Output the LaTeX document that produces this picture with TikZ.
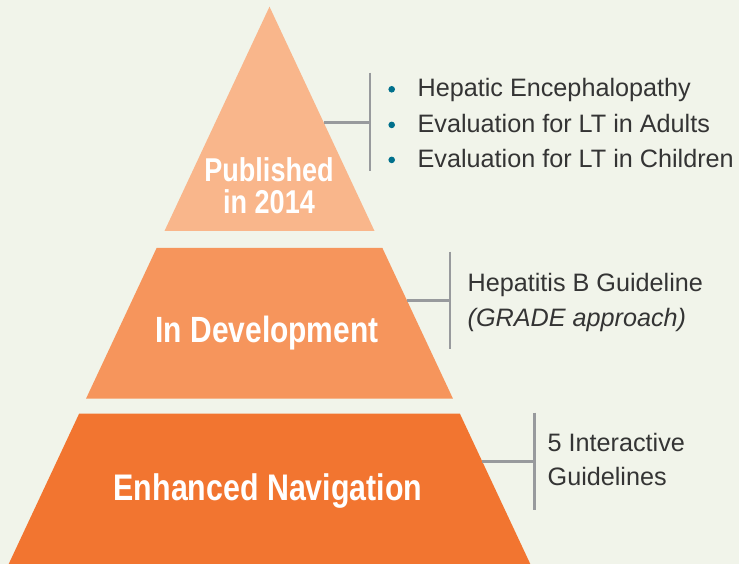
\documentclass[tikz,border=0pt]{standalone}
\usepackage{fontspec}
\setmainfont{Liberation Sans}
\newfontfamily\tierfont{Liberation Sans}[FakeStretch=0.82]
\usepackage{xcolor}
\definecolor{bgcream}{RGB}{241,244,234}
\definecolor{tiertop}{RGB}{249,182,139}
\definecolor{tiermid}{RGB}{246,149,92}
\definecolor{tierlow}{RGB}{242,117,48}
\definecolor{bracketgray}{RGB}{152,154,157}
\definecolor{bullteal}{RGB}{0,112,140}
\definecolor{listtext}{RGB}{52,52,52}

\begin{document}
\begin{tikzpicture}[x=1pt,y=1pt,yscale=-1,xscale=1,
	tierlabel/.style={text=white,inner sep=0.75pt,anchor=base},
	listitem/.style={text=listtext,inner sep=0.75pt,anchor=base west,font=\fontsize{25.2}{30}\selectfont},
	bullet/.style={circle,fill=bullteal,inner sep=0pt,minimum size=6.6pt},
	bracket/.style={draw=bracketgray,line width=2.7pt}]
		%set diagram size: 739 x 564
		\fill [bgcream] (0,0) rectangle (739,564);
		\useasboundingbox (0,0) rectangle (739,564);
		
		%Shape: Triangle [top tier]
		\fill [tiertop] (269.5,6.7) -- (374.5,231) -- (164.5,231) -- cycle ;
		%Shape: Trapezoid [middle tier]
		\fill [tiermid] (156.6,248) -- (382.4,248) -- (452.9,398.5) -- (86.1,398.5) -- cycle ;
		%Shape: Trapezoid [bottom tier]
		\fill [tierlow] (79.2,413.5) -- (459.8,413.5) -- (530.3,564) -- (8.7,564) -- cycle ;
		
		% Tier Labels
		\node (pub) [tierlabel,font=\tierfont\bfseries\fontsize{33}{33}\selectfont] at (269,181.7) {Published};
		\node (pubyr) [tierlabel,font=\tierfont\bfseries\fontsize{33}{33}\selectfont] at (269,213.3) {in 2014};
		\node (dev) [tierlabel,font=\tierfont\bfseries\fontsize{36.5}{36.5}\selectfont] at (267,342.3) {In Development};
		\node (nav) [tierlabel,font=\tierfont\bfseries\fontsize{37}{37}\selectfont] at (268,500) {Enhanced Navigation};
		
		% Brackets
		\coordinate (edgeA) at (323.6,122.3);
		\coordinate (brA) at (370,122.3);
		\coordinate (brAtop) at (370,72.7);
		\coordinate (brAbot) at (370,171);
		\draw [bracket] (edgeA) -- (brA);
		\draw [bracket] (brAtop) -- (brAbot);
		
		\coordinate (edgeB) at (407,300.5);
		\coordinate (brB) at (450,300.5);
		\coordinate (brBtop) at (450,251.7);
		\coordinate (brBbot) at (450,349.3);
		\draw [bracket] (edgeB) -- (brB);
		\draw [bracket] (brBtop) -- (brBbot);
		
		\coordinate (edgeC) at (482.3,461.3);
		\coordinate (brC) at (534.3,461.3);
		\coordinate (brCtop) at (534.3,412.7);
		\coordinate (brCbot) at (534.3,510);
		\draw [bracket] (edgeC) -- (brC);
		\draw [bracket] (brCtop) -- (brCbot);
		
		% Text Node
		\node (dot1) [bullet] at (391.7,89.3) {};
		\node (he) [listitem] at (416.7,96.7) {Hepatic Encephalopathy};
		% Text Node
		\node (dot2) [bullet] at (391.7,124.9) {};
		\node (ltad) [listitem] at (416.7,132.3) {Evaluation for LT in Adults};
		% Text Node
		\node (dot3) [bullet] at (391.7,159.9) {};
		\node (ltch) [listitem] at (416.7,167.3) {Evaluation for LT in Children};
		% Text Node
		\node (hepb) [listitem] at (466.7,291.7) {Hepatitis B Guideline};
		\node (grade) [listitem,font=\fontsize{25.2}{30}\selectfont\itshape] at (466.7,326.3) {(GRADE approach)};
		% Text Node
		\node (five) [listitem] at (546.7,451.7) {5 Interactive};
		\node (guide) [listitem] at (546.7,485.7) {Guidelines};
		
\end{tikzpicture}
\end{document}
